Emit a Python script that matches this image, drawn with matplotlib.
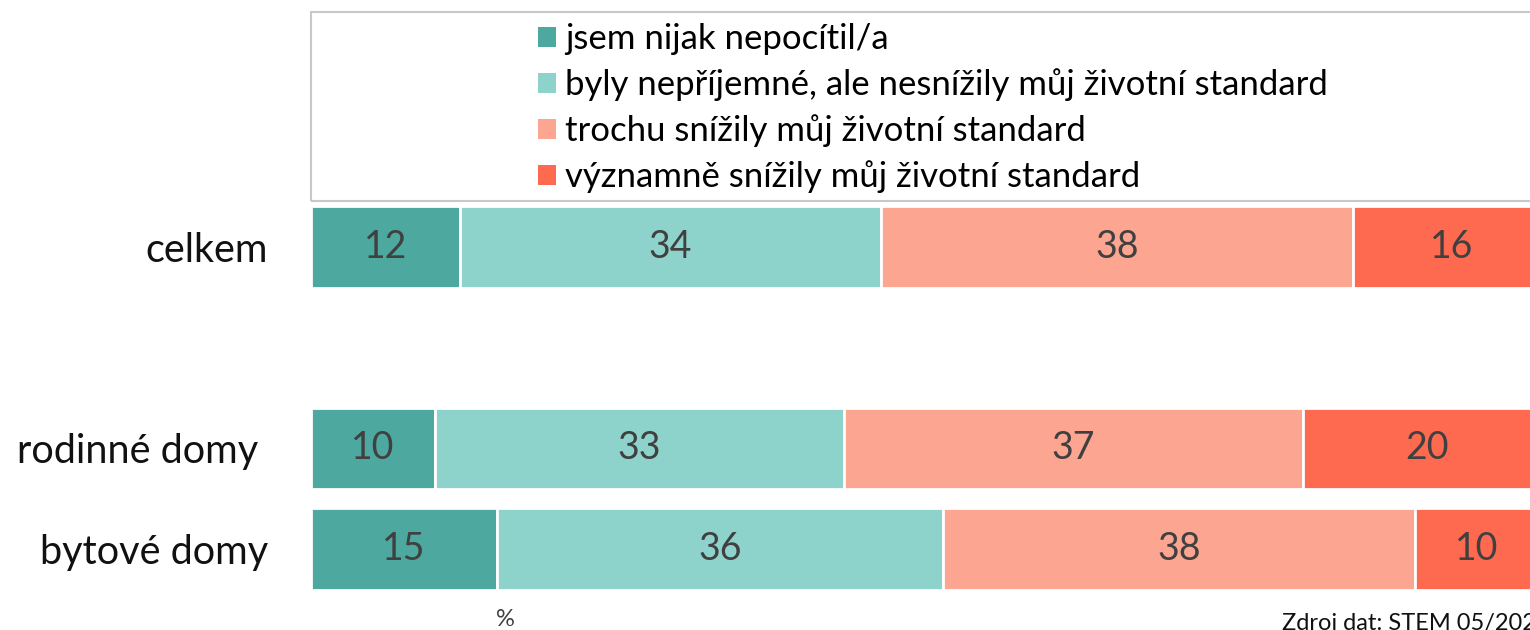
import matplotlib.pyplot as plt
from matplotlib.patches import Rectangle, Patch

plt.rcParams['font.family'] = ['Lato', 'DejaVu Sans']

groups = ["celkem", "", "rodinné domy ", "bytové domy"]
series_names = [
    "jsem nijak nepocítil/a",
    "byly nepříjemné, ale nesnížily můj životní standard",
    "trochu snížily můj životní standard",
    "významně snížily můj životní standard",
]
nepocitil = [12, None, 10, 15]
neprijemne = [34, None, 33, 36]
trochu = [38, None, 37, 38]
vyznamne = [16, None, 20, 10]
colors = ["#4DA8A0", "#8DD3CB", "#FCA590", "#FD6A4F"]

W, H = 1530, 630
fig = plt.figure(figsize=(W / 100, H / 100), dpi=100)

# plot area runs past the right edge of the canvas
ax_left, ax_right = 311, 1551
ax_top, ax_bottom = 196.7, 599.3
ax = fig.add_axes([ax_left / W, 1 - ax_bottom / H,
                   (ax_right - ax_left) / W, (ax_bottom - ax_top) / H])

series = [nepocitil, neprijemne, trochu, vyznamne]
for gi, name in enumerate(groups):
    left = 0
    for si, vals in enumerate(series):
        v = vals[gi]
        if v is None:
            continue
        ax.barh(gi, v, left=left, height=0.81, color=colors[si],
                edgecolor="white", linewidth=2)
        ax.text(left + v / 2, gi, str(v), ha="center", va="center",
                fontsize=27, color="#404040")
        left += v

ax.set_xlim(0, 100)
ax.set_ylim(3.5, -0.5)
ax.set_yticks(range(len(groups)))
ax.set_yticklabels(groups, fontsize=28.5, color="#111111")
ax.tick_params(axis="y", length=0, pad=31)
ax.set_xticks([])
for s in ax.spines.values():
    s.set_visible(False)

# legend frame
fig.add_artist(Rectangle((311 / W, 1 - 201 / H), (1560 - 311) / W, (201 - 12) / H,
                         transform=fig.transFigure, fill=False,
                         edgecolor="#C8C8C8", linewidth=1.5))
handles = [Patch(facecolor=c, edgecolor="none") for c in colors]
fig.legend(handles, series_names, loc="upper left",
           bbox_to_anchor=(514 / W, 1 + 1 / H), frameon=False,
           fontsize=25, handlelength=0.52, handleheight=0.52,
           handletextpad=0.26, labelspacing=0.38, borderpad=0.2)

fig.text(496 / W, 1 - 630 / H, "%", fontsize=17, color="#404040",
         ha="left", va="bottom")
fig.text(1282 / W, 1 - 634 / H, "Zdroj dat: STEM 05/2023", fontsize=17,
         color="#111111", ha="left", va="bottom")

fig.savefig("out.png", dpi=100)
